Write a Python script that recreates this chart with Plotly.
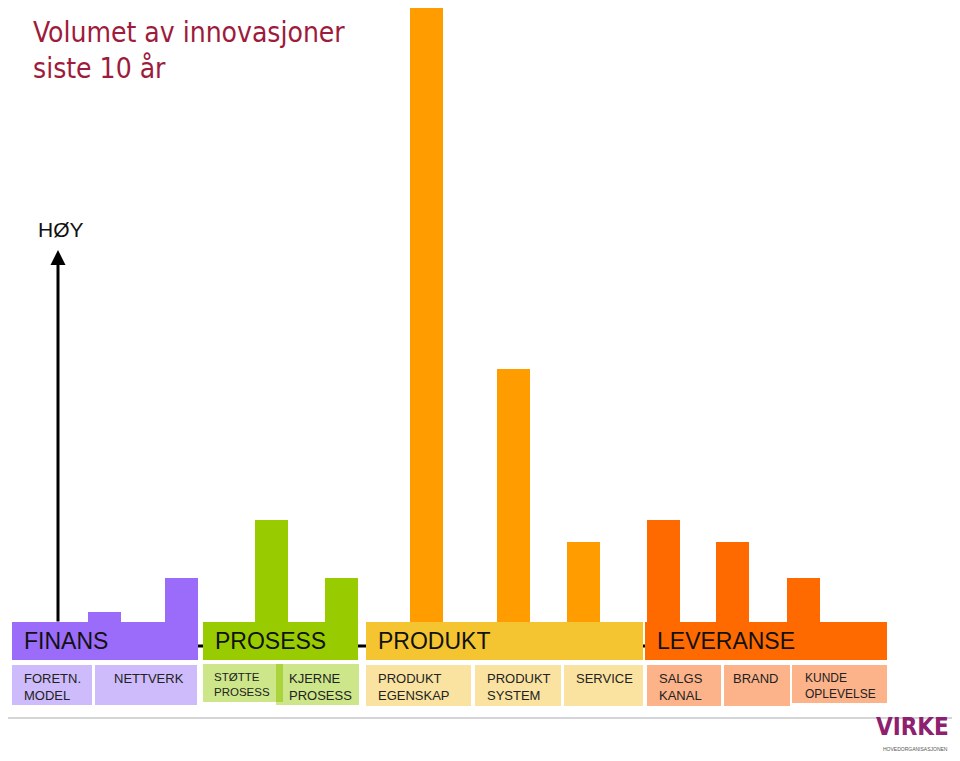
import plotly.graph_objects as go

# volume of innovations per category (bar heights above the group band)
groups = ["FINANS", "PROSESS", "PRODUKT", "LEVERANSE"]
finans_values = [12, 46]
prosess_values = [104, 46]
produkt_values = [640, 255, 82]
leveranse_values = [104, 82, 46]

finans_sub = ["FORETN.<br>MODEL", "NETTVERK"]
prosess_sub = ["STØTTE<br>PROSESS", "KJERNE<br>PROSESS"]
produkt_sub = ["PRODUKT<br>EGENSKAP", "PRODUKT<br>SYSTEM", "SERVICE"]
leveranse_sub = ["SALGS<br>KANAL", "BRAND", "KUNDE<br>OPLEVELSE"]

H = 761
W = 960
PAD = 8  # page body margin


def Y(py):
    # convert screen pixel row to data y (origin at bottom)
    return H - py


BASE = Y(622)

# layout per group: bar centres, band span, sub boxes, colours
layout_groups = [
    dict(values=finans_values, subs=finans_sub, centres=[104.5, 181.5],
         band=(12, 198), boxes=[(12, 92, 665, 705), (95, 197, 665, 705)],
         text_x=[22, 112], sub_size=[13, 13],
         bar="#9B6BFA", band_c="#9B6BFA", light="#CDBBFB"),
    dict(values=prosess_values, subs=prosess_sub, centres=[271.5, 341.5],
         band=(203, 358), boxes=[(203, 280, 664, 702), (276, 359, 664, 705)],
         text_x=[212, 287], sub_size=[11.5, 13],
         bar="#99CC00", band_c="#99CC00", light="#CDE68A"),
    dict(values=produkt_values, subs=produkt_sub, centres=[426.5, 513.5, 583.5],
         band=(366, 643), boxes=[(366, 471, 665, 706), (475, 561, 665, 706), (564, 643, 665, 706)],
         text_x=[376, 485, 574], sub_size=[13, 13, 13],
         bar="#FF9C00", band_c="#F4C530", light="#FAE3A0"),
    dict(values=leveranse_values, subs=leveranse_sub, centres=[663.5, 732.5, 803.5],
         band=(645, 887), boxes=[(647, 721, 665, 706), (724, 790, 665, 706), (792, 887, 665, 703)],
         text_x=[657, 731, 803], sub_size=[13, 13, 12],
         bar="#FF6A00", band_c="#FF6A00", light="#FDB38A"),
]

fig = go.Figure()
shapes = []
annotations = []

# baseline behind the bands
shapes.append(dict(type="line", x0=12, x1=887, y0=Y(646), y1=Y(646),
                   line=dict(color="black", width=3), layer="below"))

for name, g in zip(groups, layout_groups):
    fig.add_trace(go.Bar(
        x=g["centres"], y=g["values"], base=BASE - 2, width=33,
        marker=dict(color=g["bar"], line=dict(width=0)),
        showlegend=False, hoverinfo="skip",
    ))
    x0, x1 = g["band"]
    shapes.append(dict(type="rect", x0=x0, x1=x1, y0=Y(660), y1=Y(622),
                       fillcolor=g["band_c"], line=dict(width=0)))
    annotations.append(dict(x=x0 + 10, y=Y(641), text=name, showarrow=False,
                            xanchor="left", yanchor="middle",
                            font=dict(family="Liberation Sans, Arial", size=23, color="#111")))
    for (bx0, bx1, by0, by1), sub, tx, fs in zip(g["boxes"], g["subs"], g["text_x"], g["sub_size"]):
        shapes.append(dict(type="rect", x0=bx0, x1=bx1, y0=Y(by1), y1=Y(by0),
                           fillcolor=g["light"], line=dict(width=0)))
        annotations.append(dict(x=tx, y=Y(669), text=sub, showarrow=False,
                                xanchor="left", yanchor="top", align="left",
                                font=dict(family="Liberation Sans, Arial", size=fs, color="#222")))

# darker overlap strip between the two process boxes
shapes.append(dict(type="rect", x0=276, x1=283, y0=Y(702), y1=Y(664),
                   fillcolor="#ABD33C", line=dict(width=0)))

# bottom grey rule
shapes.append(dict(type="line", x0=0, x1=952, y0=Y(718), y1=Y(718),
                   line=dict(color="#D5D5D8", width=2)))

# vertical arrow (HØY)
annotations.append(dict(x=58, y=Y(250), ax=58, ay=Y(623), xref="x", yref="y",
                        axref="x", ayref="y", text="", showarrow=True,
                        arrowhead=2, arrowsize=1, arrowwidth=3, arrowcolor="black"))
annotations.append(dict(x=36, y=Y(229), text="HØY", showarrow=False,
                        xanchor="left", yanchor="middle",
                        font=dict(family="Liberation Sans, Arial", size=21, color="#111")))

# title
annotations.append(dict(x=31, y=Y(14), text="Volumet av innovasjoner<br>siste 10 år",
                        showarrow=False, xanchor="left", yanchor="top", align="left",
                        font=dict(family="DejaVu Sans Condensed", size=28, color="#9E1B3C")))

# logo
annotations.append(dict(x=951, y=Y(743), text="<b>VIRKE</b>", showarrow=False,
                        xanchor="right", yanchor="bottom",
                        font=dict(family="DejaVu Sans Condensed", size=24, color="#8E2070")))
annotations.append(dict(x=950, y=Y(744), text="HOVEDORGANISASJONEN", showarrow=False,
                        xanchor="right", yanchor="top",
                        font=dict(family="Liberation Sans, Arial", size=5, color="#555")))

fig.update_layout(
    width=W - 2 * PAD, height=H - 2 * PAD,
    margin=dict(l=0, r=0, t=0, b=0),
    plot_bgcolor="white", paper_bgcolor="white",
    xaxis=dict(range=[PAD, W - PAD], visible=False, fixedrange=True),
    yaxis=dict(range=[PAD, H - PAD], visible=False, fixedrange=True),
    shapes=shapes, annotations=annotations,
    bargap=0,
)

fig.write_html("out.html")
